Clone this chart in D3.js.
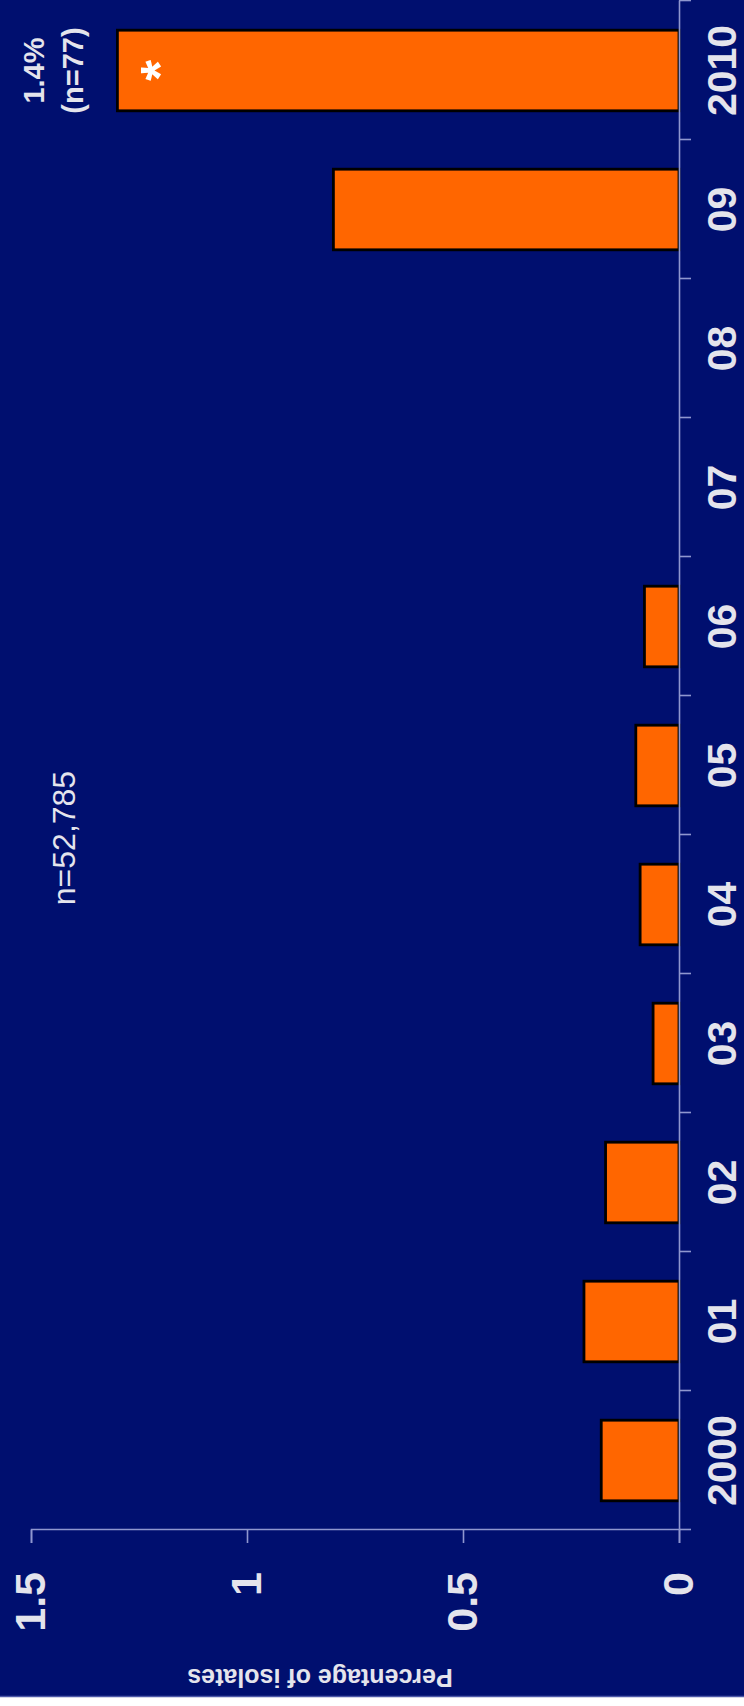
<!DOCTYPE html>
<html>
<head>
<meta charset="utf-8">
<script src="https://cdn.jsdelivr.net/npm/d3@7"></script>
<style>
  html, body { margin: 0; padding: 0; background: #ffffff; }
  svg { display: block; }
</style>
</head>
<body>
<script>
// ---- data ----
const categories = ["2000", "01", "02", "03", "04", "05", "06", "07", "08", "09", "2010"];
const values = [0.18, 0.22, 0.17, 0.06, 0.09, 0.10, 0.08, 0, 0, 0.80, 1.30];
const valueTicks = [0, 0.5, 1, 1.5];
const valueTickLabels = ["0", "0.5", "1", "1.5"];
const axisTitle = "Percentage of isolates";
const totalLabel = "n=52,785";
const lastBarLabel = ["1.4%", "(n=77)"];
const significanceMark = "*";

// ---- layout ----
const PW = 744, PH = 1706;
const bg = "#000f6f", axisColor = "#8f97cf", textColor = "#e4e4ec";
const font = "'Liberation Sans', Arial, sans-serif";

const svg = d3.select("body").append("svg").attr("width", PW).attr("height", PH);
svg.append("rect").attr("x", 0).attr("y", 0).attr("width", PW).attr("height", 1697).attr("fill", bg);
svg.append("line").attr("x1", 0).attr("x2", PW).attr("y1", 1696.5).attr("y2", 1696.5)
  .attr("stroke", "#4c58a8").attr("stroke-width", 1.5);

// chart drawn in its own upright frame, then turned a quarter turn
const g = svg.append("g").attr("transform", `translate(0,${PH}) rotate(-90)`);

const x0 = 176, x1 = 1705, yBase = 679, yTop = 31;
const x = d3.scaleBand().domain(categories).range([x0, x1]).paddingInner(0.42).paddingOuter(0.21);
const y = d3.scaleLinear().domain([0, 1.5]).range([yBase, yTop]);
const idx = d3.scaleLinear().domain([0, categories.length]).range([x0, x1]);

// bars
g.append("g").selectAll("rect")
  .data(categories.map((c, i) => ({ c, v: values[i] })).filter(d => d.v > 0))
  .join("rect")
  .attr("x", d => x(d.c))
  .attr("width", x.bandwidth())
  .attr("y", d => y(d.v))
  .attr("height", d => y(0) - y(d.v))
  .attr("fill", "#ff6600")
  .attr("stroke", "#000000")
  .attr("stroke-width", 2.8);

// value axis
const ya = g.append("g").attr("transform", `translate(${x0},0)`)
  .call(d3.axisLeft(y).tickValues(valueTicks).tickFormat((d, i) => valueTickLabels[i])
    .tickSize(13).tickSizeOuter(13).tickPadding(29));
ya.attr("color", axisColor);
ya.selectAll("path, line").attr("stroke-width", 1.6);
ya.selectAll("text").attr("fill", textColor).attr("font-size", 43).attr("font-weight", "bold")
  .attr("font-family", font);

// category axis: ticks at band boundaries
const xa = g.append("g").attr("transform", `translate(0,${yBase})`)
  .call(d3.axisBottom(idx).tickValues(d3.range(categories.length + 1)).tickFormat("")
    .tickSize(12).tickSizeOuter(0));
xa.attr("color", axisColor);
xa.selectAll("path, line").attr("stroke-width", 1.6);

// category labels
const xl = g.append("g").attr("transform", `translate(0,${yBase})`)
  .call(d3.axisBottom(x).tickSize(0).tickPadding(28));
xl.select(".domain").remove();
xl.selectAll("text").attr("fill", textColor).attr("font-size", 41).attr("font-weight", "bold")
  .attr("font-family", font);

// axis title
g.append("text")
  .attr("transform", `translate(37,320) rotate(-90)`)
  .attr("text-anchor", "middle")
  .attr("fill", textColor).attr("font-size", 25).attr("font-weight", "bold")
  .attr("font-family", font)
  .text(axisTitle);

// total n
g.append("text")
  .attr("x", PH - 838).attr("y", 64)
  .attr("text-anchor", "middle").attr("dominant-baseline", "central")
  .attr("fill", textColor).attr("font-size", 32).attr("font-family", font)
  .text(totalLabel);

// label above last bar
const lastCat = categories[categories.length - 1];
const cx = x(lastCat) + x.bandwidth() / 2;
g.append("text").attr("x", cx).attr("y", 44)
  .attr("text-anchor", "middle").attr("fill", textColor).attr("font-size", 29).attr("font-weight", "bold")
  .attr("font-family", font)
  .text(lastBarLabel[0]);
g.append("text").attr("x", cx).attr("y", 83)
  .attr("text-anchor", "middle").attr("fill", textColor).attr("font-size", 29).attr("font-weight", "bold")
  .attr("font-family", font)
  .text(lastBarLabel[1]);

// significance asterisk inside last bar
g.append("text").attr("x", cx).attr("y", y(values[values.length - 1]) + 61)
  .attr("text-anchor", "middle").attr("fill", "#ffffff").attr("font-size", 54).attr("font-weight", "bold")
  .attr("font-family", font)
  .text(significanceMark);
</script>
</body>
</html>
